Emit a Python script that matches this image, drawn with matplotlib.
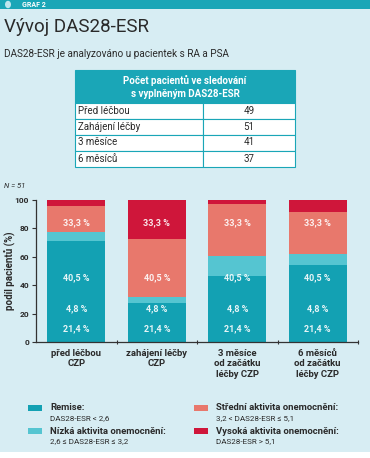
import matplotlib
matplotlib.use("Agg")
import matplotlib.pyplot as plt
from matplotlib.patches import Rectangle, Circle
from matplotlib import font_manager as fm
import numpy as np

names = {f.name for f in fm.fontManager.ttflist}
FONT = 'Liberation Sans Narrow' if 'Liberation Sans Narrow' in names else 'Roboto'
plt.rcParams['font.family'] = [FONT, 'DejaVu Sans']

# ---- data ----
categories = ["před léčbou\nCZP", "zahájení léčby\nCZP", "3 měsíce\nod začátku\nléčby CZP", "6 měsíců\nod začátku\nléčby CZP"]
remise = [71.4, 27.5, 46.3, 54.1]
nizka = [6.1, 3.9, 14.6, 8.1]
stredni = [18.4, 41.2, 36.6, 29.7]
vysoka = [4.1, 27.4, 2.5, 8.1]
seg_labels = ["21,4 %", "4,8 %", "40,5 %", "33,3 %"]
seg_label_y = [9.3, 23.7, 45.6, 84.0]
table_rows = ["Před léčbou", "Zahájení léčby", "3 měsíce", "6 měsíců"]
table_vals = ["49", "51", "41", "37"]
yticks = [0, 20, 40, 60, 80, 100]

C_REM = '#13a1b3'
C_LOW = '#55c5d1'
C_MID = '#e8786c'
C_HIGH = '#cf163a'
BG = '#d7edf3'
TEAL = '#1aa6b7'
TXT = '#2a2a2a'

W, H = 370, 458
fig = plt.figure(figsize=(W/100, H/100), dpi=100)
fig.patch.set_facecolor('white')

def fx(x): return x / W
def fy(y): return 1 - y / H

# background panel
fig.patches.append(Rectangle((0, fy(452)), 1, 452/H, transform=fig.transFigure, facecolor=BG, edgecolor='none', zorder=-2))
# top strip
fig.patches.append(Rectangle((0, fy(9)), 1, 9/H, transform=fig.transFigure, facecolor=TEAL, edgecolor='none', zorder=1))
fig.patches.append(Circle((fx(8), fy(4.5)), 3/W, transform=fig.transFigure, facecolor='#bfe6ee', edgecolor='none', zorder=2))
fig.text(fx(22), fy(4.8), "GRAF 2", color='white', fontsize=5, fontweight='bold', va='center', ha='left')

fig.text(fx(4), fy(27), "Vývoj DAS28-ESR", color=TXT, fontsize=13.5, va='center', ha='left')
fig.text(fx(4), fy(54), "DAS28-ESR je analyzováno u pacientek s RA a PSA", color=TXT, fontsize=7.2, va='center', ha='left')

# table
tx0, tx1, tdiv = 75, 295, 203
fig.patches.append(Rectangle((fx(tx0), fy(103)), fx(tx1)-fx(tx0), 33/H, transform=fig.transFigure, facecolor=TEAL, edgecolor=TEAL, lw=0.8, zorder=2))
fig.text(fx(185), fy(80), "Počet pacientů ve sledování", color='white', fontsize=7, fontweight='bold', ha='center', va='center')
fig.text(fx(185), fy(94), "s vyplněným DAS28-ESR", color='white', fontsize=7, fontweight='bold', ha='center', va='center')
row_edges = [103, 118.5, 134.5, 150.5, 166.5]
for i, (lab, val) in enumerate(zip(table_rows, table_vals)):
    y0, y1 = row_edges[i], row_edges[i+1]
    fig.patches.append(Rectangle((fx(tx0), fy(y1)), fx(tdiv)-fx(tx0), (y1-y0)/H, transform=fig.transFigure, facecolor='white', edgecolor=TEAL, lw=0.8, zorder=2))
    fig.patches.append(Rectangle((fx(tdiv), fy(y1)), fx(tx1)-fx(tdiv), (y1-y0)/H, transform=fig.transFigure, facecolor='white', edgecolor=TEAL, lw=0.8, zorder=2))
    fig.text(fx(78), fy((y0+y1)/2), lab, color=TXT, fontsize=7, ha='left', va='center', zorder=3)
    fig.text(fx(249), fy((y0+y1)/2), val, color=TXT, fontsize=7, ha='center', va='center', zorder=3)

fig.text(fx(4), fy(186), "N = 51", color=TXT, fontsize=5.5, style='italic', ha='left', va='center')

# chart
ax = fig.add_axes([fx(36), fy(342), fx(358)-fx(36), (342-200)/H])
ax.set_zorder(5)
ax.set_facecolor('none')
x = np.arange(len(categories))
wbar = 0.72
bottoms = np.zeros(len(categories))
for vals, col in [(remise, C_REM), (nizka, C_LOW), (stredni, C_MID), (vysoka, C_HIGH)]:
    ax.bar(x, vals, wbar, bottom=bottoms, color=col, edgecolor='none', zorder=2)
    bottoms += np.array(vals)
for lab, yy in zip(seg_labels, seg_label_y):
    for xi in x:
        ax.text(xi, yy, lab, color='white', fontsize=6.5, fontweight='bold', ha='center', va='center', alpha=0.9, zorder=3)

ax.set_xlim(-0.5, 3.5)
ax.set_ylim(0, 100)
ax.set_yticks(yticks)
ax.set_yticklabels([str(v) for v in yticks], fontsize=6, fontweight='bold', color=TXT)
ax.set_xticks(x)
ax.set_xticklabels(categories, fontsize=6.8, fontweight='bold', color=TXT, linespacing=1.2)
ax.tick_params(axis='x', length=0, pad=5)
ax.set_xticks([0.5, 1.5, 2.5, 3.5], minor=True)
ax.tick_params(axis='x', which='minor', length=3, direction='inout', color='#333333', width=0.8)
ax.tick_params(axis='y', length=3, width=0.8, color='#333333', pad=2)
for s in ['top', 'right']:
    ax.spines[s].set_visible(False)
for s in ['left', 'bottom']:
    ax.spines[s].set_color('#333333')
    ax.spines[s].set_linewidth(0.9)
ax.set_ylabel("podíl pacientů (%)", fontsize=7, fontweight='bold', color=TXT, labelpad=0)

# legend
leg = [
    (28, 408, C_REM, "Remise:", "DAS28-ESR < 2,6"),
    (28, 431, C_LOW, "Nízká aktivita onemocnění:", "2,6 ≤ DAS28-ESR ≤ 3,2"),
    (194, 408, C_MID, "Střední aktivita onemocnění:", "3,2 < DAS28-ESR ≤ 5,1"),
    (194, 431, C_HIGH, "Vysoká aktivita onemocnění:", "DAS28-ESR > 5,1"),
]
for lx, ly, col, t1, t2 in leg:
    fig.patches.append(Rectangle((fx(lx), fy(ly+3)), 14/W, 6/H, transform=fig.transFigure, facecolor=col, edgecolor='none', zorder=2))
    fig.text(fx(lx+22), fy(ly), t1, color=TXT, fontsize=6.8, fontweight='bold', ha='left', va='center')
    fig.text(fx(lx+22), fy(ly+10), t2, color=TXT, fontsize=5.8, ha='left', va='center')

fig.savefig("out.png", dpi=100, facecolor=fig.get_facecolor())
